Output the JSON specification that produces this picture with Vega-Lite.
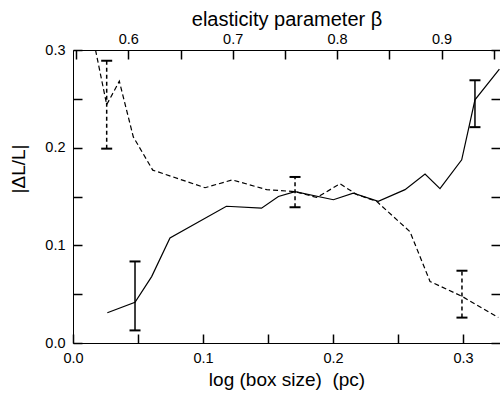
{
  "$schema": "https://vega.github.io/schema/vega-lite/v6.json",
  "width": 427,
  "height": 293,
  "autosize": {"type": "none"},
  "padding": {"left": 73, "top": 50, "right": 0, "bottom": 51},
  "background": "white",
  "config": {
    "view": {"stroke": null},
    "font": "Liberation Sans",
    "axis": {
      "domainColor": "black", "tickColor": "black", "labelColor": "black", "titleColor": "black",
      "labelFont": "Liberation Sans", "titleFont": "Liberation Sans",
      "labelFontSize": 14.5, "titleFontSize": 19, "titleFontWeight": "normal",
      "grid": false, "tickWidth": 1.5, "domainWidth": 1, "labelOverlap": false, "labelFlush": false
    }
  },
  "datasets": {
    "solid": [
      {"logBox": 0.0264, "dLL": 0.031}, {"logBox": 0.0477, "dLL": 0.0416}, {"logBox": 0.0605, "dLL": 0.068},
      {"logBox": 0.0746, "dLL": 0.1075}, {"logBox": 0.118, "dLL": 0.14}, {"logBox": 0.145, "dLL": 0.138},
      {"logBox": 0.158, "dLL": 0.15}, {"logBox": 0.1708, "dLL": 0.155}, {"logBox": 0.2003, "dLL": 0.1467},
      {"logBox": 0.2156, "dLL": 0.1535}, {"logBox": 0.2348, "dLL": 0.145}, {"logBox": 0.2554, "dLL": 0.157},
      {"logBox": 0.2708, "dLL": 0.173}, {"logBox": 0.2823, "dLL": 0.158}, {"logBox": 0.299, "dLL": 0.1876},
      {"logBox": 0.3092, "dLL": 0.249}, {"logBox": 0.328, "dLL": 0.2805}
    ],
    "solidErr": [
      {"logBox": 0.0477, "lo": 0.0129, "hi": 0.0835},
      {"logBox": 0.3092, "lo": 0.221, "hi": 0.269}
    ],
    "dashed": [
      {"beta": 0.5686, "dLL": 0.3}, {"beta": 0.5793, "dLL": 0.244}, {"beta": 0.5914, "dLL": 0.268},
      {"beta": 0.6048, "dLL": 0.211}, {"beta": 0.6234, "dLL": 0.177}, {"beta": 0.6735, "dLL": 0.159},
      {"beta": 0.6996, "dLL": 0.167}, {"beta": 0.7326, "dLL": 0.157}, {"beta": 0.7597, "dLL": 0.155},
      {"beta": 0.7805, "dLL": 0.149}, {"beta": 0.8028, "dLL": 0.163}, {"beta": 0.8188, "dLL": 0.152},
      {"beta": 0.8379, "dLL": 0.145}, {"beta": 0.8698, "dLL": 0.114}, {"beta": 0.889, "dLL": 0.063},
      {"beta": 0.9193, "dLL": 0.048}, {"beta": 0.9544, "dLL": 0.026}
    ],
    "dashedErr": [
      {"beta": 0.5793, "lo": 0.199, "hi": 0.289},
      {"beta": 0.7597, "lo": 0.139, "hi": 0.17},
      {"beta": 0.9196, "lo": 0.026, "hi": 0.074}
    ]
  },
  "layer": [
    {
      "layer": [
        {
          "data": {"name": "solid"},
          "mark": {"type": "line", "color": "black", "strokeWidth": 1.2, "clip": true},
          "encoding": {
            "x": {
              "field": "logBox", "type": "quantitative",
              "scale": {"domain": [0, 0.32846], "nice": false, "zero": false},
              "axis": {
                "orient": "bottom", "title": "log (box size)\u00a0 (pc)",
                "values": [0, 0.05, 0.1, 0.15, 0.2, 0.25, 0.3],
                "tickSize": -9,
                "encode": {"ticks": {"update": {"y2": {"signal": "round(datum.value*20) % 2 == 0 ? -9 : -4.5"}}}},
                "labelExpr": "round(datum.value*20) % 2 == 0 ? format(datum.value, '.1f') : ''",
                "labelPadding": 17.5,
                "titleY": 42.5, "titleBaseline": "alphabetic"
              }
            },
            "y": {
              "field": "dLL", "type": "quantitative",
              "scale": {"domain": [0, 0.3], "nice": false, "zero": false},
              "axis": {
                "orient": "left", "title": "|ΔL/L|",
                "values": [0, 0.025, 0.05, 0.075, 0.1, 0.125, 0.15, 0.175, 0.2, 0.225, 0.25, 0.275, 0.3],
                "tickSize": -9,
                "encode": {"ticks": {"update": {"x2": {"signal": "round(datum.value*40) % 2 == 0 ? 9 : 4.5"}}}},
                "labelExpr": "round(datum.value*40) % 4 == 0 ? format(datum.value, '.1f') : ''",
                "labelPadding": 17,
                "titleX": -48.6, "titleY": 118.5, "titleBaseline": "alphabetic"
              }
            }
          }
        },
        {
          "data": {"name": "solidErr"},
          "mark": {"type": "rule", "color": "black", "strokeWidth": 1.5},
          "encoding": {
            "x": {"field": "logBox", "type": "quantitative"},
            "y": {"field": "lo", "type": "quantitative"},
            "y2": {"field": "hi"}
          }
        },
        {
          "data": {"name": "solidErr"},
          "mark": {"type": "tick", "orient": "horizontal", "color": "black", "size": 11, "thickness": 2, "opacity": 1},
          "encoding": {
            "x": {"field": "logBox", "type": "quantitative"},
            "y": {"field": "lo", "type": "quantitative"}
          }
        },
        {
          "data": {"name": "solidErr"},
          "mark": {"type": "tick", "orient": "horizontal", "color": "black", "size": 11, "thickness": 2, "opacity": 1},
          "encoding": {
            "x": {"field": "logBox", "type": "quantitative"},
            "y": {"field": "hi", "type": "quantitative"}
          }
        }
      ]
    },
    {
      "layer": [
        {
          "data": {"name": "dashed"},
          "mark": {"type": "line", "color": "black", "strokeWidth": 1.2, "strokeDash": [5, 3], "clip": true},
          "encoding": {
            "x": {
              "field": "beta", "type": "quantitative",
              "scale": {"domain": [0.54703, 0.95603], "nice": false, "zero": false},
              "axis": {
                "orient": "top", "title": "elasticity parameter β",
                "titleFontSize": 20,
                "values": [0.55, 0.6, 0.65, 0.7, 0.75, 0.8, 0.85, 0.9, 0.95],
                "tickSize": -9,
                "encode": {"ticks": {"update": {"y2": {"signal": "round(datum.value*20) % 2 == 0 ? 9 : 4.5"}}}},
                "labelExpr": "round(datum.value*20) % 2 == 0 ? format(datum.value, '.1f') : ''",
                "labelPadding": 12.5,
                "titleY": -25, "titleBaseline": "alphabetic"
              }
            },
            "y": {
              "field": "dLL", "type": "quantitative",
              "axis": {
                "orient": "right", "title": null, "labels": false, "domain": false,
                "values": [0, 0.025, 0.05, 0.075, 0.1, 0.125, 0.15, 0.175, 0.2, 0.225, 0.25, 0.275, 0.3],
                "tickSize": -9,
                "encode": {"ticks": {"update": {"x2": {"signal": "round(datum.value*40) % 2 == 0 ? -9 : -4.5"}}}}
              }
            }
          }
        },
        {
          "data": {"name": "dashedErr"},
          "mark": {"type": "rule", "color": "black", "strokeWidth": 1.5, "strokeDash": [4, 3]},
          "encoding": {
            "x": {"field": "beta", "type": "quantitative"},
            "y": {"field": "lo", "type": "quantitative"},
            "y2": {"field": "hi"}
          }
        },
        {
          "data": {"name": "dashedErr"},
          "mark": {"type": "tick", "orient": "horizontal", "color": "black", "size": 11, "thickness": 2, "opacity": 1},
          "encoding": {
            "x": {"field": "beta", "type": "quantitative"},
            "y": {"field": "lo", "type": "quantitative"}
          }
        },
        {
          "data": {"name": "dashedErr"},
          "mark": {"type": "tick", "orient": "horizontal", "color": "black", "size": 11, "thickness": 2, "opacity": 1},
          "encoding": {
            "x": {"field": "beta", "type": "quantitative"},
            "y": {"field": "hi", "type": "quantitative"}
          }
        }
      ]
    }
  ],
  "resolve": {"scale": {"x": "independent"}, "axis": {"x": "independent", "y": "independent"}}
}
